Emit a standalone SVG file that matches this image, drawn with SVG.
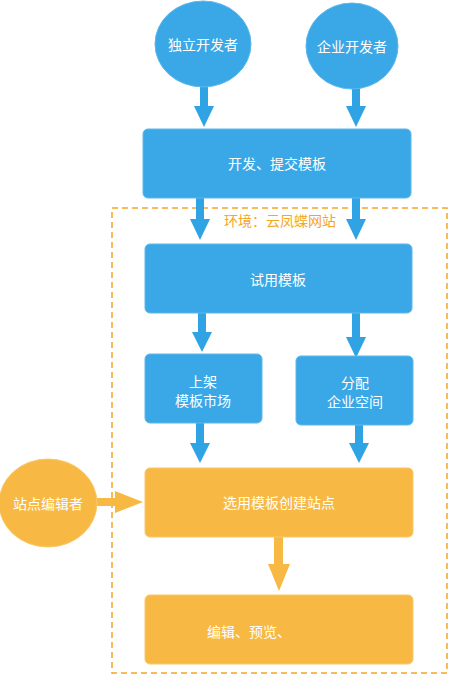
<svg xmlns="http://www.w3.org/2000/svg" width="450" height="675" viewBox="0 0 450 675">
<style>
.blue{fill:#3AA8E6;stroke:#5CB8EC;stroke-width:1}
.org{fill:#F8B944;stroke:#FAC767;stroke-width:1}
.t{font-family:"Noto Sans CJK SC","Noto Sans",sans-serif;font-size:14px;fill:#FFFFFF;text-anchor:middle;dominant-baseline:central}
.ts{text-anchor:start}
.ab{fill:#2FA3E4}
.ao{fill:#F8B944}
</style>
<rect width="450" height="675" fill="#FFFFFF"/>
<rect x="112" y="208" width="335" height="465" fill="none" stroke="#F5A623" stroke-width="1.5" stroke-dasharray="6,4"/>
<text x="280" y="220" font-family="'Noto Sans CJK SC',sans-serif" font-size="14" fill="#F5A623" text-anchor="middle" dominant-baseline="central">环境：云凤蝶网站</text>
<g id="connectors">
<path class="ab" d="M200,86h8v20h6l-10,21l-10,-21h6z"/>
<path class="ab" d="M352,88h8v18h6l-10,21l-10,-21h6z"/>
<path class="ab" d="M196,198h8v21h6l-10,21l-10,-21h6z"/>
<path class="ab" d="M352,198h8v21h6l-10,21l-10,-21h6z"/>
<path class="ab" d="M198,313h8v19h6l-10,20l-10,-20h6z"/>
<path class="ab" d="M352,313h8v24h6l-10,21l-10,-21h6z"/>
<path class="ab" d="M196,423h8v20h6l-10,20l-10,-20h6z"/>
<path class="ab" d="M355,425h8v18h6l-10,20l-10,-20h6z"/>
<path class="ao" d="M97,498h18v-7l28,11l-28,11v-7h-18z"/>
<path class="ao" d="M274,537h9v27h7l-11,27l-11,-27h6z"/>
</g>
<g id="n1"><ellipse class="blue" cx="203" cy="44" rx="48" ry="43"/><text class="t" x="203" y="44">独立开发者</text></g>
<g id="n2"><ellipse class="blue" cx="352" cy="46" rx="46" ry="43"/><text class="t" x="352" y="46">企业开发者</text></g>
<g id="n3"><rect class="blue" x="143" y="129" width="268" height="69" rx="5"/><text class="t" x="277" y="163">开发、提交模板</text></g>
<g id="n4"><rect class="blue" x="145" y="244" width="267" height="69" rx="5"/><text class="t" x="278" y="279">试用模板</text></g>
<g id="n5"><rect class="blue" x="145" y="354" width="117" height="69" rx="5"/><text class="t" x="203" y="381">上架</text><text class="t" x="203" y="400">模板市场</text></g>
<g id="n6"><rect class="blue" x="296" y="356" width="117" height="69" rx="5"/><text class="t" x="355" y="382">分配</text><text class="t" x="355" y="401">企业空间</text></g>
<g id="n7"><ellipse class="org" cx="48" cy="503" rx="49" ry="44"/><text class="t" x="48" y="503">站点编辑者</text></g>
<g id="n8"><rect class="org" x="145" y="468" width="268" height="69" rx="5"/><text class="t" x="279" y="502">选用模板创建站点</text></g>
<g id="n9"><rect class="org" x="145" y="595" width="268" height="69" rx="5"/><text class="t ts" x="207" y="631">编辑、预览、</text></g>
</svg>
